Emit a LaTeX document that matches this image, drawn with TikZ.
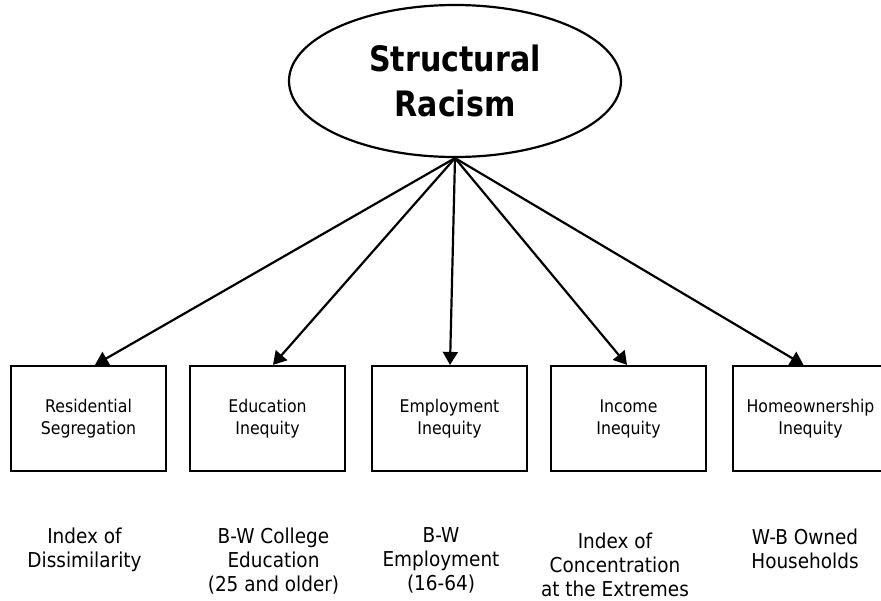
\documentclass[tikz,border=0pt]{standalone}
\usepackage{fontspec}
\setmainfont{DejaVu Sans}[FakeStretch=0.9]
\newfontfamily\titlefont{DejaVu Sans}[FakeStretch=0.86]
\usetikzlibrary{shapes.geometric,arrows.meta}
\begin{document}
\begin{tikzpicture}[x=1pt,y=-1pt,
  lw/.style={line width=2.2pt},
  latent/.style={ellipse,draw,lw,minimum width=332pt,minimum height=152pt,inner sep=0pt,
    align=center,font=\titlefont\bfseries\fontsize{35}{45}\selectfont},
  indbox/.style={rectangle,draw,lw,minimum width=155pt,minimum height=105pt,inner sep=0pt,
    align=center,font=\fontsize{17.5}{22}\selectfont},
  measure/.style={anchor=north,inner sep=0pt,align=center,font=\fontsize{20.5}{24}\selectfont},
  path/.style={lw,-{Triangle[length=13pt,width=15pt]}}
]
\useasboundingbox (0,0) rectangle (881,600);
\node[latent] (sr) at (455,81) {Structural\\Racism};

\node[indbox] (b1) at (88.5,418.5) {Residential\\Segregation};
\node[indbox] (b2) at (267.5,418.5) {Education\\Inequity};
\node[indbox] (b3) at (449.5,418.5) {Employment\\Inequity};
\node[indbox] (b4) at (628.5,418.5) {Income\\Inequity};
\node[indbox] (b5) at (810.5,418.5) {Homeownership\\Inequity};

\draw[path] (sr.south) -- ([xshift=6.5pt]b1.north);
\draw[path] (sr.south) -- ([xshift=5.5pt]b2.north);
\draw[path] (sr.south) -- ([xshift=0.5pt]b3.north);
\draw[path] (sr.south) -- ([xshift=-1.5pt]b4.north);
\draw[path] (sr.south) -- ([xshift=-7pt]b5.north);

\node[measure] (m1) at (84.5,527.5) {Index of\\Dissimilarity};
\node[measure] (m2) at (273.5,527.5) {B-W College\\Education\\(25 and older)};
\node[measure] (m3) at (441,527.5) {B-W\\Employment\\(16-64)};
\node[measure] (m4) at (615,532.5) {Index of\\Concentration\\at the Extremes};
\node[measure] (m5) at (805,529) {W-B Owned\\Households};
\end{tikzpicture}
\end{document}
